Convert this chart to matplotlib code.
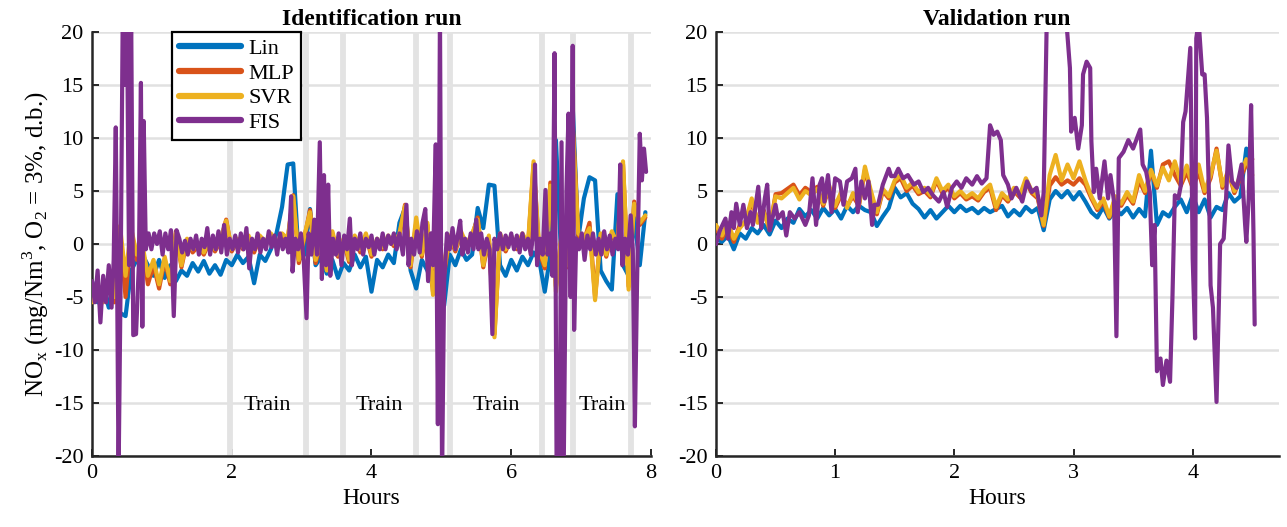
import numpy as np
import matplotlib
matplotlib.use("Agg")
import matplotlib.pyplot as plt

plt.rcParams["font.family"] = ["Liberation Serif", "DejaVu Serif"]
plt.rcParams["mathtext.fontset"] = "custom"
plt.rcParams["mathtext.rm"] = "Liberation Serif"
plt.rcParams["axes.unicode_minus"] = False

# ---------------- Identification run ----------------
# common sampling (hours) of the Lin / MLP / SVR residuals
t_id = np.round(np.arange(100) * 0.08, 2)

lin_id = [-3.5, -5.5, -4.0, -6.0, -3.0, -6.5, -6.8, -2.5, -1.5, -1.0,
          -2.0, -3.0, -1.5, -3.2, -2.0, -3.5, -2.5, -3.0, -1.8, -2.6,
          -1.6, -2.8, -2.0, -2.9, -1.5, -2.0, -1.0, -1.8, -1.2, -3.7,
          -1.0, -1.6, -0.5, 1.0, 3.5, 7.5, 7.6, -1.5, -1.0, 3.3,
          -2.0, -1.2, -2.8, -1.5, -3.2, -1.8, -2.5, -1.0, -2.2, -1.2,
          -4.5, -1.5, -2.2, -1.0, -1.8, 2.0, 3.4, -2.5, -4.2, -1.5,
          -2.5, -4.0, -2.0, -5.8, -1.0, -2.0, -0.5, -1.5, -1.0, 3.4,
          1.5, 5.6, 5.5, -2.0, -3.0, -1.5, -2.5, -1.2, -2.0, -0.8,
          -1.5, -4.5, -1.0, 9.8, -2.0, 3.0, 13.0, 0.5, 4.3, 6.3,
          6.0, -2.5, -3.5, -4.3, 4.7, -2.0, -3.0, 2.5, -2.0, 3.0]

mlp_id = [-5.0, -4.5, -5.0, -3.0, -5.5, 1.0, -5.0, 1.0, -1.5, -0.3,
          -3.8, -2.0, -4.2, -1.5, -3.8, 1.2, -2.2, 0.3, -0.8, -0.2,
          -1.0, 0.2, -0.7, 0.3, 2.3, -0.7, 0.3, -0.5, 0.6, -0.8,
          0.6, 0.0, 0.8, -0.2, 0.8, 0.3, 4.6, -1.8, 0.6, 3.2,
          -1.8, 0.3, -2.3, 1.0, -1.2, 0.3, -1.7, 0.6, -0.8, 0.8,
          -1.2, 0.3, -0.5, 0.6, -0.2, 0.8, 3.7, -2.2, 2.0, -1.2,
          1.8, -4.5, 0.3, -2.8, 0.6, -0.7, 1.0, -0.2, 0.8, 2.5,
          -2.2, 0.6, -8.5, 0.8, -0.7, 0.6, -0.5, 0.8, -0.2, 7.5,
          -0.7, -2.3, 5.8, -4.0, 0.8, -2.2, 11.5, 0.8, 0.3, 2.0,
          -5.0, 0.8, -1.2, 1.0, -0.2, 7.5, -4.0, 4.0, 1.8, 2.5]

svr_id = [-5.5, -4.0, -5.5, -3.5, -5.0, 1.7, -3.0, 1.5, -1.0, 0.0,
          -3.0, -1.5, -3.8, -1.2, -3.5, 1.0, -2.0, 0.5, -0.5, 0.0,
          -0.8, 0.3, -0.5, 0.5, 2.2, -0.5, 0.5, -0.3, 0.8, -0.5,
          0.8, 0.2, 1.0, 0.0, 1.0, 0.5, 4.5, -1.5, 0.8, 3.0,
          -1.5, 0.5, -2.5, 1.2, -1.0, 0.5, -1.5, 0.8, -0.5, 1.0,
          -1.0, 0.5, -0.3, 0.8, 0.0, 1.0, 3.6, -2.0, 2.5, -1.0,
          2.0, -4.8, 0.5, -2.5, 0.8, -0.5, 1.2, 0.0, 1.0, 2.3,
          -2.0, 0.8, -8.8, 1.0, -0.5, 0.8, -0.3, 1.0, 0.0, 7.8,
          -0.5, -2.0, 5.5, -4.5, 1.0, -2.0, 11.0, 1.0, 0.5, 1.5,
          -5.3, 1.0, -1.0, 1.2, 0.0, 7.8, -4.3, 3.8, 2.0, 2.7]

t_fis_id = [0.00, 0.04, 0.08, 0.12, 0.16, 0.20, 0.24, 0.28, 0.31, 0.34,
            0.36, 0.38, 0.41, 0.44, 0.47, 0.50, 0.53, 0.56, 0.59, 0.63,
            0.67, 0.70, 0.72, 0.74, 0.77, 0.81, 0.85, 0.89, 0.93, 0.97,
            1.01, 1.05, 1.09, 1.13, 1.17, 1.21, 1.25, 1.29, 1.33, 1.37,
            1.41, 1.45, 1.49, 1.53, 1.57, 1.61, 1.65, 1.69, 1.73, 1.77,
            1.81, 1.85, 1.89, 1.93, 1.97, 2.01, 2.05, 2.09, 2.13, 2.17,
            2.21, 2.25, 2.29, 2.33, 2.37, 2.41, 2.45, 2.49, 2.53, 2.57,
            2.61, 2.65, 2.69, 2.73, 2.77, 2.81, 2.85, 2.87, 2.91, 2.95,
            2.99, 3.03, 3.07, 3.10, 3.14, 3.18, 3.22, 3.26, 3.29, 3.32,
            3.35, 3.38, 3.41, 3.45, 3.49, 3.53, 3.57, 3.61, 3.65, 3.69,
            3.72, 3.76, 3.80, 3.84, 3.88, 3.92, 3.96, 4.00, 4.04, 4.08,
            4.12, 4.16, 4.20, 4.24, 4.28, 4.32, 4.36, 4.40, 4.45, 4.50,
            4.53, 4.57, 4.61, 4.65, 4.69, 4.73, 4.77, 4.81, 4.85, 4.88,
            4.92, 4.95, 4.98, 5.01, 5.04, 5.08, 5.12, 5.16, 5.20, 5.24,
            5.27, 5.30, 5.34, 5.38, 5.42, 5.46, 5.50, 5.53, 5.57, 5.61,
            5.65, 5.69, 5.73, 5.76, 5.80, 5.84, 5.88, 5.92, 5.96, 6.00,
            6.04, 6.08, 6.12, 6.16, 6.20, 6.24, 6.28, 6.31, 6.34, 6.37,
            6.41, 6.45, 6.49, 6.52, 6.56, 6.59, 6.62, 6.65, 6.69, 6.72,
            6.75, 6.79, 6.82, 6.85, 6.88, 6.90, 6.93, 6.97, 7.01, 7.05,
            7.09, 7.13, 7.17, 7.21, 7.25, 7.29, 7.33, 7.37, 7.41, 7.45,
            7.49, 7.53, 7.56, 7.59, 7.63, 7.67, 7.71, 7.74, 7.77, 7.80,
            7.84, 7.87, 7.90, 7.93]

fis_id = [-3.5, -5.5, -2.5, -7.4, -3.0, -5.5, -2.0, -6.0, -1.5, 11.0,
          -4.0, -22.0, -3.0, 22.0, 15.0, 22.0, -2.0, 22.0, -8.6, -8.5,
          -2.0, 15.2, -7.8, 11.6, -0.5, 1.0, -0.5, 1.0, 0.0, 1.2,
          -1.0, 1.0, -0.5, 1.3, -6.8, 1.3, 0.5, -0.8, 0.3, -1.0,
          0.5, -0.5, 0.8, -1.0, 0.5, -0.3, 1.5, -1.0, 0.8, -0.5,
          1.2, -0.8, 1.8, -1.0, 0.5, -0.5, 0.8, -0.8, 1.0, -0.5,
          1.5, -2.3, 0.5, -0.5, 1.0, -0.8, 0.5, -0.5, 1.2, -0.3,
          0.8, -1.0, 1.0, -0.5, 0.5, -0.8, 4.5, -2.6, 0.5, -0.5,
          1.0, -1.5, -7.0, 1.0, -1.0, 2.3, -1.0, 9.6, -3.3, 6.5,
          -2.0, 5.6, -3.0, 0.5, -1.0, 1.0, -2.0, 0.8, -0.5, 2.4,
          -2.0, 0.5, -0.5, 1.0, -1.0, 0.5, -0.3, 0.8, -1.0, 0.5,
          -0.5, 1.0, -0.5, 0.8, 0.0, 1.0, -0.5, 1.0, -1.0, 3.7,
          -2.0, 0.5, -1.0, 1.2, -0.8, 2.0, 3.3, -3.5, 1.0, -2.0,
          9.4, -17.0, 22.0, -22.0, -3.5, 1.0, -0.5, 1.5, -0.5, 1.0,
          2.2, -1.0, 0.5, -0.8, 1.0, -0.5, 2.3, -0.5, 1.0, -1.0,
          0.5, -0.5, -8.5, 0.5, -0.5, 1.0, -0.5, 0.8, -0.3, 1.0,
          -0.5, 0.8, -0.8, 1.0, -0.5, 0.5, -1.0, 0.8, 7.5, -2.0,
          0.5, -1.0, 5.1, -1.0, 1.0, -3.0, 18.0, -22.0, -22.0, 9.6,
          -22.0, 5.0, 12.3, -5.0, 18.7, -8.1, 0.5, -0.5, 1.0, -1.5,
          0.8, -0.5, 1.0, -1.0, 0.5, -1.0, 1.2, -0.5, 0.8, -1.0,
          0.5, -0.5, 7.5, -2.0, 0.5, -1.0, 2.7, -0.5, -17.2, -4.0,
          10.4, 6.0, 9.0, 6.8]

# training windows (hours)
train_start = [1.97, 3.59, 5.13, 6.89]
train_end = [3.06, 4.64, 6.44, 7.71]

# ---------------- Validation run ----------------
t_val = np.round(np.arange(91) * 0.05, 2)

lin_val = [0.5, 0.2, 0.8, -0.5, 1.0, 0.5, 1.5, 1.0, 1.8, 0.9,
           2.2, 1.5, 2.4, 2.0, 3.3, 2.6, 3.2, 2.4, 3.4, 2.7,
           3.3, 2.4, 3.6, 3.0, 3.6, 3.2, 3.0, 1.7, 2.6, 3.4,
           5.3, 4.4, 4.8, 3.8, 3.3, 2.5, 3.2, 2.4, 3.0, 3.6,
           3.0, 3.6, 3.1, 3.4, 2.9, 3.4, 3.0, 3.3, 3.6, 2.6,
           3.2, 2.7, 3.5, 3.0, 3.4, 1.3, 4.2, 5.0, 4.4, 5.0,
           4.2, 4.9, 4.0, 3.0, 2.5, 3.5, 2.4, 3.2, 2.8, 3.4,
           2.5, 3.3, 2.6, 8.8, 1.8, 3.0, 2.6, 3.5, 4.2, 3.0,
           4.6, 3.0, 4.2, 2.5, 3.5, 3.2, 4.8, 4.0, 4.5, 9.0,
           4.6]

mlp_val = [1.5, 0.5, 1.6, 0.2, 1.8, 2.0, 4.0, 2.2, 3.2, 1.3,
           4.7, 4.8, 5.2, 5.6, 4.6, 5.3, 4.9, 5.4, 3.6, 5.3,
           3.4, 4.6, 3.6, 4.5, 3.6, 7.0, 4.8, 2.8, 5.0, 4.3,
           5.8, 6.2, 5.0, 5.5, 4.7, 5.0, 4.4, 6.0, 4.8, 5.3,
           4.3, 4.8, 4.2, 4.5, 4.1, 4.9, 5.3, 3.2, 4.6, 4.0,
           5.0, 4.4, 5.9, 4.8, 4.3, 1.7, 5.5, 6.3, 5.6, 6.0,
           5.6, 6.2, 5.6, 4.3, 3.2, 4.0, 2.5, 4.3, 3.6, 4.6,
           3.8, 6.0, 4.8, 6.8, 5.3, 7.5, 7.8, 6.5, 5.5, 6.8,
           5.3, 6.8, 4.8, 6.2, 9.0, 5.3, 6.8, 4.8, 6.2, 7.5,
           8.0]

svr_val = [1.8, 0.8, 2.0, 0.5, 1.5, 2.2, 4.3, 2.0, 3.0, 1.5,
           4.5, 4.3, 4.8, 5.3, 4.2, 5.0, 4.6, 5.2, 3.8, 5.5,
           3.6, 4.9, 3.4, 4.8, 3.8, 7.3, 5.0, 3.0, 5.2, 4.5,
           6.0, 6.5, 5.3, 5.8, 4.9, 5.3, 4.6, 6.2, 5.0, 5.6,
           4.5, 5.0, 4.4, 4.8, 4.3, 5.1, 5.6, 3.5, 4.8, 4.2,
           5.3, 4.6, 6.2, 5.0, 4.5, 1.8, 6.5, 8.4, 6.0, 7.5,
           6.2, 7.8, 6.0, 4.5, 3.4, 4.3, 2.6, 4.5, 3.8, 4.9,
           4.0, 6.5, 5.0, 7.0, 5.5, 7.2, 6.0, 7.8, 5.8, 7.4,
           5.5, 7.5, 5.0, 6.5, 8.8, 5.5, 7.0, 5.0, 6.5, 8.0,
           6.5]

t_fis_val = [0.00, 0.03, 0.08, 0.10, 0.13, 0.15, 0.17, 0.20, 0.23, 0.26,
             0.29, 0.31, 0.355, 0.38, 0.41, 0.43, 0.45, 0.50, 0.52, 0.56,
             0.59, 0.62, 0.66, 0.70, 0.75, 0.78, 0.81, 0.84, 0.87, 0.89,
             0.91, 0.94, 0.97, 1.00, 1.04, 1.07, 1.10, 1.14, 1.17, 1.19,
             1.22, 1.25, 1.28, 1.31, 1.33, 1.36, 1.40, 1.45, 1.47, 1.50,
             1.53, 1.57, 1.61, 1.66, 1.70, 1.74, 1.78, 1.82, 1.87, 1.91,
             1.94, 1.98, 2.02, 2.06, 2.10, 2.15, 2.19, 2.23, 2.27, 2.30,
             2.33, 2.36, 2.39, 2.41, 2.45, 2.48, 2.52, 2.57, 2.61, 2.65,
             2.69, 2.73, 2.75, 2.78, 2.85, 2.92, 2.97, 2.98, 3.01, 3.04,
             3.07, 3.08, 3.11, 3.14, 3.15, 3.17, 3.19, 3.22, 3.26, 3.29,
             3.31, 3.34, 3.36, 3.38, 3.42, 3.46, 3.50, 3.56, 3.58, 3.61,
             3.64, 3.66, 3.68, 3.70, 3.73, 3.75, 3.78, 3.81, 3.83, 3.85,
             3.88, 3.90, 3.92, 3.94, 3.98, 4.00, 4.02, 4.03, 4.05, 4.08,
             4.10, 4.12, 4.14, 4.15, 4.17, 4.20, 4.22, 4.23, 4.26, 4.28,
             4.30, 4.33, 4.37, 4.41, 4.44, 4.45, 4.47, 4.49, 4.51, 4.52]

fis_val = [0.0, 1.2, 2.4, 0.5, 3.0, 1.5, 3.8, 1.8, 3.7, 1.5,
           3.0, 1.8, 5.4, 1.5, 4.3, 5.6, 1.3, 3.7, 2.4, 3.0,
           0.8, 3.0, 2.4, 3.0, 1.8, 2.7, 6.2, 1.8, 5.6, 6.2,
           4.0, 6.5, 3.0, 6.2, 5.9, 3.7, 5.9, 6.2, 7.1, 3.0,
           5.9, 4.3, 5.9, 1.8, 3.7, 3.7, 5.6, 7.1, 6.4, 6.4,
           7.1, 6.2, 6.5, 5.6, 5.9, 4.9, 5.3, 4.6, 4.0, 4.9,
           3.5, 5.3, 5.9, 5.3, 6.2, 5.6, 6.4, 5.7, 6.2, 11.2,
           10.3, 10.6, 9.8, 6.5, 5.6, 4.3, 5.3, 4.0, 5.9, 4.9,
           5.3, 2.7, 4.9, 24.0, 26.0, 24.0, 16.6, 10.6, 11.9, 9.0,
           11.2, 16.0, 17.2, 16.6, 9.7, 4.9, 7.1, 4.3, 7.8, 4.3,
           6.5, 4.0, -8.7, 8.1, 8.7, 9.8, 9.0, 10.8, 7.5, 6.8,
           4.9, -2.0, 1.8, -12.0, -10.8, -13.3, -11.0, -13.0, -5.1, 4.6,
           4.3, 5.5, 11.5, 12.5, 18.5, -1.4, -8.9, 19.4, 21.0, 16.0,
           16.0, 11.9, 3.0, -3.9, -6.0, -14.9, -5.4, 0.0, 0.5, 4.3,
           9.3, 5.9, 5.3, 7.5, 1.8, 0.2, 4.3, 13.1, 1.0, -7.6]

# ---------------- drawing ----------------
colors = {"Lin": "#0072BD", "MLP": "#D95319", "SVR": "#EDB120", "FIS": "#7E2F8E"}
LW = 3.0
FS = 15

fig = plt.figure(figsize=(12.87, 5.27), dpi=100)
ax1 = fig.add_axes([0.0715, 0.1347, 0.4343, 0.8046])
ax2 = fig.add_axes([0.5563, 0.1347, 0.4371, 0.8046])


def style_axes(ax, xmax, xticks):
    ax.set_xlim(0, xmax)
    ax.set_ylim(-20, 20)
    ax.set_xticks(xticks)
    ax.set_yticks(np.arange(-20, 21, 5))
    ax.yaxis.grid(True, color="#e1e1e1", linewidth=1.8, zorder=0)
    ax.set_axisbelow(True)
    for s in ("top", "right"):
        ax.spines[s].set_visible(False)
    for s in ("left", "bottom"):
        ax.spines[s].set_linewidth(1.8)
        ax.spines[s].set_color("#262626")
    ax.tick_params(direction="in", length=5, width=1.4, labelsize=FS + 1,
                   colors="#262626", labelcolor="black", pad=6)
    ax.set_xlabel("Hours", fontsize=FS + 2, labelpad=3)


style_axes(ax1, 8, [0, 2, 4, 6, 8])
style_axes(ax2, 4.72, [0, 1, 2, 3, 4])

# training window boundaries
for ts, te in zip(train_start, train_end):
    for tb in (ts, te):
        ax1.axvline(tb, color="#e3e3e3", linewidth=4.2, zorder=1)
    ax1.text((ts + te) / 2, -15.2, "Train", ha="center", va="center",
             fontsize=FS + 1, zorder=6)

series_id = [("Lin", t_id, lin_id), ("MLP", t_id, mlp_id),
             ("SVR", t_id, svr_id), ("FIS", t_fis_id, fis_id)]
series_val = [("Lin", t_val, lin_val), ("MLP", t_val, mlp_val),
              ("SVR", t_val, svr_val), ("FIS", t_fis_val, fis_val)]

for i, (name, tt, vv) in enumerate(series_id):
    ax1.plot(tt, vv, color=colors[name], linewidth=LW, label=name, zorder=2 + i,
             solid_joinstyle="round", solid_capstyle="round")
for i, (name, tt, vv) in enumerate(series_val):
    ax2.plot(tt, vv, color=colors[name], linewidth=LW, label=name, zorder=2 + i,
             solid_joinstyle="round", solid_capstyle="round")

ax1.set_title("Identification run", fontsize=FS + 2, fontweight="bold", pad=5)
ax2.set_title("Validation run", fontsize=FS + 2, fontweight="bold", pad=5)
ax1.set_ylabel(r"NO$_\mathregular{x}$ (mg/Nm$^\mathregular{3}$, O$_\mathregular{2}$ = 3%, d.b.)",
               fontsize=FS + 3, labelpad=2)

leg = ax1.legend(loc="upper left", bbox_to_anchor=(0.143, 1.0), borderaxespad=0,
                 fontsize=FS + 1, handlelength=2.8, handletextpad=0.35,
                 labelspacing=0.18, borderpad=0.3, fancybox=False,
                 framealpha=1, edgecolor="black")
leg.get_frame().set_linewidth(1.6)
for line in leg.get_lines():
    line.set_linewidth(4.5)

fig.savefig("out.png", dpi=100)
